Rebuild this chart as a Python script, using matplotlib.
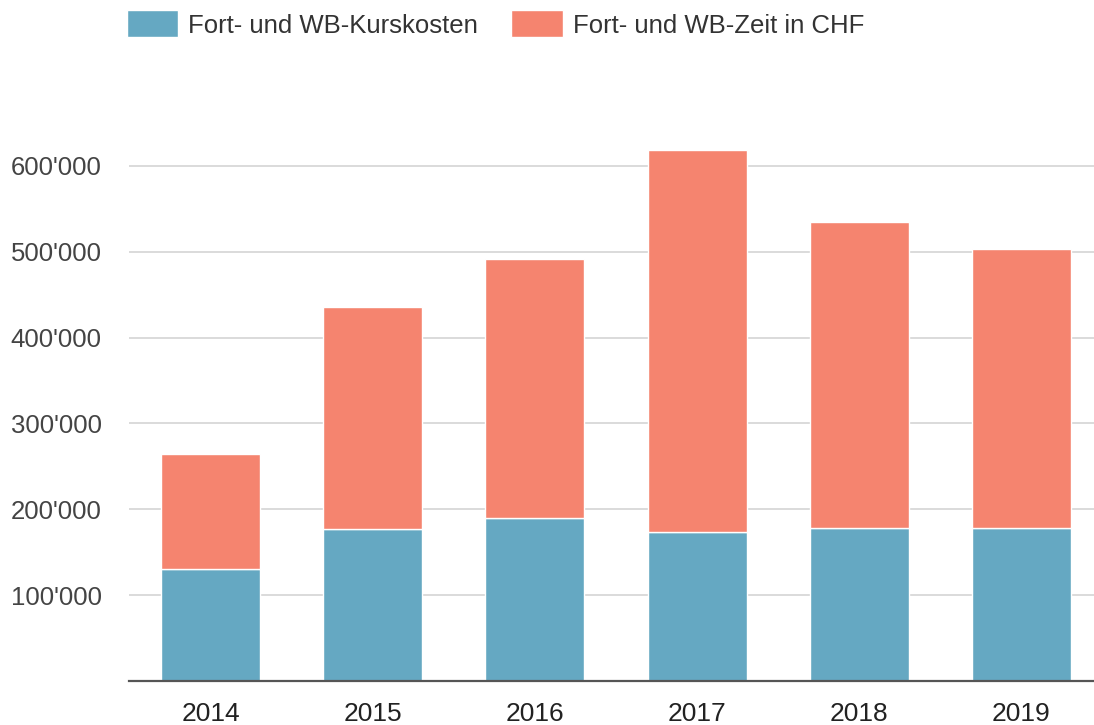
import matplotlib.pyplot as plt
from matplotlib.ticker import FuncFormatter
import numpy as np

years = ["2014", "2015", "2016", "2017", "2018", "2019"]
kurskosten = [130000, 177000, 190000, 174000, 178000, 178000]
zeit_chf = [134000, 259000, 301000, 445000, 357000, 325000]
labels = ["Fort- und WB-Kurskosten", "Fort- und WB-Zeit in CHF"]

blue = "#65a8c2"
red = "#f5846f"

plt.rcParams['font.family'] = ['Liberation Sans', 'DejaVu Sans']
fig = plt.figure(figsize=(10.94, 7.25), dpi=100)
ax = fig.add_axes([0.1183, 0.0607, 0.8817, 0.7578])

x = np.arange(len(years))
b1 = ax.bar(x, kurskosten, width=0.61, color=blue, edgecolor="white", linewidth=1, zorder=3)
b2 = ax.bar(x, zeit_chf, width=0.61, bottom=kurskosten, color=red, edgecolor="white", linewidth=1, zorder=3)

ax.set_xlim(-0.5, 5.447)
ax.set_ylim(0, 640000)
ax.set_yticks([100000, 200000, 300000, 400000, 500000, 600000])
ax.yaxis.set_major_formatter(FuncFormatter(lambda v, p: f"{int(v):,}".replace(",", "'")))
ax.set_xticks(x)
ax.set_xticklabels(years)
ax.grid(axis="y", color="#d4d4d4", linewidth=1.2, zorder=0)
ax.tick_params(axis="y", length=0, pad=20, labelsize=18.5, labelcolor="#444444")
ax.tick_params(axis="x", length=0, pad=15, labelsize=19, labelcolor="#222222")
for s in ["top", "right", "left"]:
    ax.spines[s].set_visible(False)
ax.spines["bottom"].set_color("#555555")
ax.spines["bottom"].set_linewidth(1.6)
ax.spines["bottom"].set_zorder(4)

fig.legend([b1, b2], labels, loc="center left", bbox_to_anchor=(0.095, 0.967),
           ncol=2, frameon=False, fontsize=18.5, handlelength=2.0, handleheight=1.25,
           handletextpad=0.38, columnspacing=1.3, labelcolor="#333333")

plt.savefig("out.png", dpi=100)
